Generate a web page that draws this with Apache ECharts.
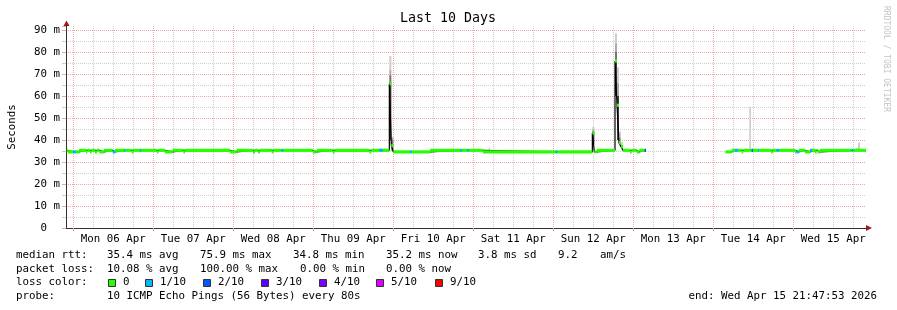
<!DOCTYPE html>
<html><head><meta charset="utf-8">
<script src="https://cdn.jsdelivr.net/npm/echarts@6/dist/echarts.min.js"></script>
<style>html,body{margin:0;padding:0;background:#fff}#c{width:897px;height:310px}</style>
</head><body><div id="c"></div>
<script>
// ---- axis / tick data (hours since Mon 06 Apr 00:00) ----
const dayLabels = ["Mon 06 Apr","Tue 07 Apr","Wed 08 Apr","Thu 09 Apr","Fri 10 Apr","Sat 11 Apr","Sun 12 Apr","Mon 13 Apr","Tue 14 Apr","Wed 15 Apr"];
const labelHours = [12,36,60,84,108,132,156,180,204,228];
const majorHours = [0,24,48,72,96,120,144,168,192,216];
const minorHours = [6,12,18,30,36,42,54,60,66,78,84,90,102,108,114,126,132,138,150,156,162,174,180,186,198,204,210,222,228,234];
const yLabelValues = [0,10,20,30,40,50,60,70,80,90];

// ---- median rtt (ms) segments: start hour, value, loss level index ----
const medianHours = [-2.0,-1.6,0.0,0.8,1.7,3.8,4.2,5.0,5.5,6.5,7.1,7.8,9.2,11.8,12.5,15.2,15.6,17.5,18.0,20.0,20.4,25.0,25.5,27.5,29.8,33.0,33.5,47.0,49.0,53.9,54.5,55.4,56.0,59.5,60.0,62.5,63.0,71.8,73.0,77.8,78.4,88.8,89.4,91.8,92.8,94.8,95.4,96.0,101.0,101.5,107.0,116.0,116.5,118.2,118.7,122.9,144.7,145.2,155.7,156.3,157.0,162.5,163.1,163.7,164.3,164.9,167.0,167.5,169.0,169.8,171.4,171.8,195.7,197.5,198.5,199.4,200.5,201.0,203.5,203.9,205.4,205.7,209.3,209.8,211.0,211.8,216.5,217.0,217.6,219.5,221.0,221.6,222.5,223.0,223.3,224.0,233.5,234.0,237.8];
const medianValues = [35.3,34.6,34.6,34.6,35.3,34.6,35.3,34.6,35.3,34.6,35.3,34.6,35.3,34.6,35.3,35.3,35.3,34.6,35.3,35.3,35.3,34.6,35.3,34.6,35.3,34.6,35.3,34.6,35.3,34.6,35.3,34.6,35.3,34.6,35.3,35.3,35.3,34.6,35.3,34.6,35.3,34.6,35.3,35.3,35.3,65.6,37.5,34.6,34.6,34.6,35.3,35.3,35.3,35.3,35.3,34.6,34.6,34.6,43.2,34.6,35.3,75.9,55.8,38.7,37.0,35.3,34.6,35.3,34.6,35.3,35.3,null,34.6,35.3,35.3,35.3,34.6,35.3,35.3,35.3,35.3,35.3,34.6,35.3,35.3,35.3,34.6,34.6,35.3,34.6,35.3,35.3,34.6,35.3,34.6,35.3,35.3,35.3,null];
const lossLevels = [0,0,1,0,0,0,0,0,0,0,0,0,0,1,0,1,0,0,0,1,0,0,0,0,0,0,0,0,0,0,0,0,0,0,0,1,0,0,0,0,0,0,0,1,0,0,0,0,1,0,0,1,0,1,0,0,1,0,0,0,0,0,0,0,0,0,0,0,0,0,2,0,0,0,1,0,0,0,2,0,1,0,0,0,1,0,0,1,0,0,1,0,0,0,0,0,1,0,0];

// ---- smoke (spread of the 10 pings): start hour, end hour, low, high, shade ----
const smokeStart = [43.0,91.8,94.8,94.8,94.8,94.8,95.4,95.4,124.6,155.7,155.7,155.7,162.5,162.5,162.5,162.5,163.1,163.1,163.1,163.7,163.7,164.3,202.8,229.4,234.8,235.4];
const smokeEnd   = [43.4,92.8,95.4,95.4,95.4,95.4,96.0,96.0,125.0,156.3,156.3,156.3,163.1,163.1,163.1,163.1,163.7,163.7,163.7,164.3,164.3,164.9,203.3,229.7,235.4,236.0];
const smokeLow   = [35.0,35.0,71.8,69.5,66.5,40.0,35.0,40.0,35.0,44.8,43.9,38.0,84.0,80.0,76.0,60.0,66.0,60.0,40.0,41.0,39.5,37.0,35.5,35.0,35.0,35.0];
const smokeHigh  = [36.0,36.3,78.2,71.8,69.5,66.5,40.0,41.2,36.5,46.0,44.8,43.9,88.5,84.0,80.0,75.9,73.0,66.0,60.0,43.8,41.0,39.0,55.1,35.9,36.4,38.8];
const smokeShade = [0,0,0,1,2,3,2,1,0,0,1,3,0,1,2,3,0,1,3,0,1,0,0,0,0,0];

// ---- legend ----
const lossColors = ["#26ff00","#00b8ff","#0059ff","#5e00ff","#7e00ff","#dd00ff","#ff0000"];
const lossNames = ["0","1/10","2/10","3/10","4/10","5/10","9/10"];
const rttTexts = ["median rtt:","35.4 ms avg","75.9 ms max","34.8 ms min","35.2 ms now","3.8 ms sd","9.2","am/s"];
const lossTexts = ["packet loss:","10.08 % avg","100.00 % max","0.00 % min","0.00 % now"];
const probeTexts = ["probe:","10 ICMP Echo Pings (56 Bytes) every 80s"];
const endText = "end: Wed Apr 15 21:47:53 2026";

// ---- layout / style ----
const FONT = "DejaVu Sans Mono";
const FS = 10.8;
const X_MIN = -2.202, X_MAX = 237.798, Y_MAX = 91.82;
const BAND = 0.72;
const shadeColors = ["#cdcdcd","#a9a9a9","#747474","#3c3c3c"];
const gridGrey = "#cfcfcf", gridRed = "#eaa8a8", axisCol = "#333333", arrowCol = "#9e1a1a";
const dotted = [1,1];

// build series data
const lineData = [];
const bandData = [];
for (let i = 0; i < medianHours.length; i++) {
  const v = medianValues[i];
  if (v == null) { lineData.push([medianHours[i], null]); continue; }
  lineData.push([medianHours[i], v]);
  const nextT = medianHours[i+1];
  if (medianValues[i+1] == null) lineData.push([nextT, v]);
  bandData.push([medianHours[i], nextT, v, lossLevels[i]]);
}
const smokeData = smokeStart.map((s, i) => [s, smokeEnd[i], smokeLow[i], smokeHigh[i], smokeShade[i]]);

const graphics = [];
graphics.push({type:'text', x:448, y:19, style:{text:'Last 10 Days', font:'13.3px '+FONT, fill:'#000', align:'center', verticalAlign:'middle'}});
graphics.push({type:'text', x:886, y:59, rotation:-Math.PI/2, style:{text:'RRDTOOL / TOBI OETIKER', font:'8px '+FONT, fill:'#c4c4c4', align:'center', verticalAlign:'middle'}});
graphics.push({type:'polygon', shape:{points:[[63.5,26],[69.5,26],[66.5,20.5]]}, style:{fill:arrowCol}});
graphics.push({type:'polygon', shape:{points:[[866,225],[866,231],[872,228]]}, style:{fill:arrowCol}});
const rttX = [16,107,200,293,386,478,558,600];
rttTexts.forEach((t,i)=>graphics.push({type:'text', x:rttX[i], y:255, style:{text:t, font:FS+'px '+FONT, fill:'#000', verticalAlign:'middle'}}));
const lossX = [16,107,200,300,386];
lossTexts.forEach((t,i)=>graphics.push({type:'text', x:lossX[i], y:268.7, style:{text:t, font:FS+'px '+FONT, fill:'#000', verticalAlign:'middle'}}));
graphics.push({type:'text', x:16, y:282.4, style:{text:'loss color:', font:FS+'px '+FONT, fill:'#000', verticalAlign:'middle'}});
const boxX = [108.5,145.5,203.5,261.5,319.5,376.5,435.5];
lossColors.forEach((c,i)=>{
  graphics.push({type:'rect', shape:{x:boxX[i], y:279.5, width:7, height:7}, style:{fill:c, stroke:'#333', lineWidth:1}});
  graphics.push({type:'text', x:boxX[i]+14.5, y:282.4, style:{text:lossNames[i], font:FS+'px '+FONT, fill:'#000', verticalAlign:'middle'}});
});
const probeX = [16,107];
probeTexts.forEach((t,i)=>graphics.push({type:'text', x:probeX[i], y:296, style:{text:t, font:FS+'px '+FONT, fill:'#000', verticalAlign:'middle'}}));
graphics.push({type:'text', x:877, y:296, style:{text:endText, font:FS+'px '+FONT, fill:'#000', align:'right', verticalAlign:'middle'}});

const chart = echarts.init(document.getElementById('c'), null, {renderer:'canvas', width:897, height:310});
chart.setOption({
  animation: false,
  backgroundColor: '#ffffff',
  grid: {left:66, right:31, top:26, bottom:82, containLabel:false, outerBoundsMode:'none'},
  xAxis: [
    {type:'value', min:X_MIN, max:X_MAX, position:'bottom',
     axisLine:{show:true, onZero:false, lineStyle:{color:axisCol, width:1}},
     axisTick:{show:false, customValues:minorHours},
     axisLabel:{show:true, customValues:labelHours, margin:6, color:'#000', fontFamily:FONT, fontSize:FS,
                formatter:(v)=>dayLabels[Math.round((v-12)/24)]},
     splitLine:{show:true, lineStyle:{color:gridGrey, type:dotted, width:1}}},
    {type:'value', min:X_MIN, max:X_MAX, position:'bottom',
     axisLine:{show:false, onZero:false},
     axisTick:{show:true, customValues:majorHours, length:3, inside:false, lineStyle:{color:gridRed}},
     axisLabel:{show:false},
     splitLine:{show:true, lineStyle:{color:gridRed, type:dotted, width:1}}}
  ],
  yAxis: [
    {type:'value', min:0, max:Y_MAX, interval:5, position:'left',
     name:'Seconds', nameLocation:'middle', nameGap:48.5, nameTextStyle:{color:'#000', fontFamily:FONT, fontSize:FS},
     axisLine:{show:true, onZero:false, lineStyle:{color:axisCol, width:1}},
     axisTick:{show:true, length:4, lineStyle:{color:gridGrey}},
     axisLabel:{show:true, margin:6, color:'#000', fontFamily:FONT, fontSize:FS, showMaxLabel:false,
                formatter:(v)=> (yLabelValues.indexOf(v) >= 0 ? (v === 0 ? '0\u00a0\u00a0' : v + ' m') : '')},
     splitLine:{show:true, showMinLine:false, showMaxLine:false, lineStyle:{color:gridGrey, type:dotted, width:1}}},
    {type:'value', min:0, max:Y_MAX, interval:10, position:'left',
     axisLine:{show:false, onZero:false},
     axisTick:{show:true, length:4, lineStyle:{color:gridRed}},
     axisLabel:{show:false},
     splitLine:{show:true, showMinLine:false, showMaxLine:false, lineStyle:{color:gridRed, type:dotted, width:1}}}
  ],
  series: [
    {type:'custom', name:'smoke', z:3, data:smokeData, xAxisIndex:0, yAxisIndex:0, encode:{x:[0,1], y:[2,3]}, clip:true,
     renderItem: function (params, api) {
       const p0 = api.coord([api.value(0), api.value(3)]);
       const p1 = api.coord([api.value(1), api.value(2)]);
       return {type:'rect', shape:{x:p0[0], y:p0[1], width:p1[0]-p0[0], height:p1[1]-p0[1]},
               style:{fill: shadeColors[api.value(4)]}};
     }},
    {type:'line', name:'median', z:4, data:lineData, xAxisIndex:0, yAxisIndex:0, step:'end', showSymbol:false, symbol:'none',
     connectNulls:false, lineStyle:{color:'#000', width:1.2}, clip:true},
    {type:'custom', name:'loss', z:5, data:bandData, xAxisIndex:0, yAxisIndex:0, encode:{x:[0,1], y:2}, clip:true,
     renderItem: function (params, api) {
       const v = api.value(2);
       const p0 = api.coord([api.value(0), v + BAND]);
       const p1 = api.coord([api.value(1), v - BAND]);
       return {type:'rect', shape:{x:p0[0], y:p0[1], width:p1[0]-p0[0], height:p1[1]-p0[1]},
               style:{fill: lossColors[api.value(3)]}};
     }}
  ],
  graphic: graphics
});
</script>
</body></html>
